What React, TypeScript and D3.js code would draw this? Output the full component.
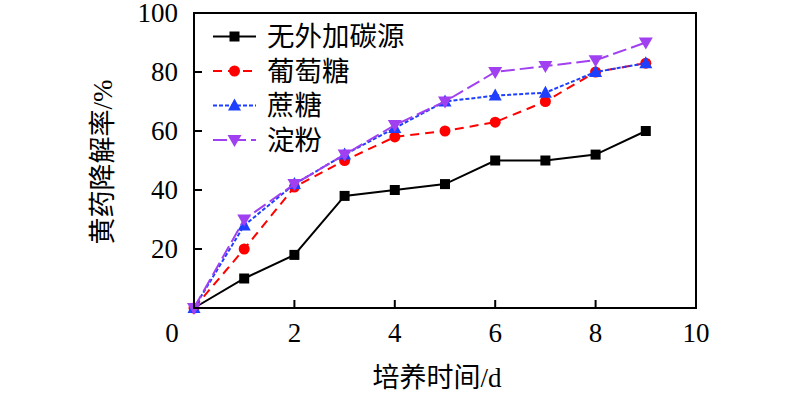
import React from "react";
import * as d3 from "d3";

const days = [0, 1, 2, 3, 4, 5, 6, 7, 8, 9];
const seriesNames = ["无外加碳源", "葡萄糖", "蔗糖", "淀粉"];
const noCarbon = [0, 10, 18, 38, 40, 42, 50, 50, 52, 60];
const glucose = [0, 20, 41, 50, 58, 60, 63, 70, 80, 83];
const sucrose = [0, 28, 42, 52, 61, 70, 72, 73, 80, 83];
const starch = [0, 30, 42, 52, 62, 70, 80, 82, 84, 90];
const xTicks = [2, 4, 6, 8, 10];
const yTicks = [20, 40, 60, 80, 100];

const W = 800, H = 396;
const L = 194, R = 696, T = 13, B = 308;
const FONT = "'Liberation Serif', 'Times New Roman', 'Noto Sans CJK SC', serif";

const styles = [
  { color: "#000000", dash: "none", marker: "square" },
  { color: "#ff0000", dash: "9,6", marker: "circle" },
  { color: "#1f3fff", dash: "4,2", marker: "up" },
  { color: "#a040f0", dash: "14,5", marker: "down" },
];

function Marker({ type, x, y, color }: { type: string; x: number; y: number; color: string }) {
  if (type === "square") return <rect x={x - 5} y={y - 5} width={10} height={10} fill={color} />;
  if (type === "circle") return <circle cx={x} cy={y} r={5.5} fill={color} />;
  if (type === "up") return <path d={`M${x},${y - 7}L${x + 6.5},${y + 5}L${x - 6.5},${y + 5}Z`} fill={color} />;
  return <path d={`M${x},${y + 7}L${x + 7},${y - 5}L${x - 7},${y - 5}Z`} fill={color} />;
}

export default function App() {
  const x = d3.scaleLinear().domain([0, 10]).range([L, R]);
  const y = d3.scaleLinear().domain([0, 100]).range([B, T]);
  const data = [noCarbon, glucose, sucrose, starch];
  const line = d3
    .line<number>()
    .x((_, i) => x(days[i]))
    .y((v) => y(v));
  const legendY = [36.5, 71, 105.5, 140];

  return (
    <svg width={W} height={H} style={{ position: "absolute", left: 0, top: 0, background: "#fff" }} fontFamily={FONT}>
      <rect x={0} y={0} width={W} height={H} fill="#fff" />
      {data.map((vals, si) => (
        <g key={si}>
          <path d={line(vals) || ""} fill="none" stroke={styles[si].color} strokeWidth={2} strokeDasharray={styles[si].dash} />
          {vals.map((v, i) => (
            <Marker key={i} type={styles[si].marker} x={x(days[i])} y={y(v)} color={styles[si].color} />
          ))}
        </g>
      ))}
      <rect x={L} y={T} width={R - L} height={B - T} fill="none" stroke="#000" strokeWidth={2} />
      {xTicks.filter((t) => t < 10).map((t) => (
        <line key={t} x1={x(t)} x2={x(t)} y1={B} y2={B - 8} stroke="#000" strokeWidth={2} />
      ))}
      {yTicks.filter((t) => t < 100).map((t) => (
        <line key={t} x1={L} x2={L + 8} y1={y(t)} y2={y(t)} stroke="#000" strokeWidth={2} />
      ))}
      {xTicks.map((t) => (
        <text key={t} x={x(t)} y={342} textAnchor="middle" fontSize={27}>{t}</text>
      ))}
      {yTicks.map((t) => (
        <text key={t} x={178} y={y(t) + 9} textAnchor="end" fontSize={27}>{t}</text>
      ))}
      <text x={172} y={342} textAnchor="middle" fontSize={27}>0</text>
      <text x={437} y={387} textAnchor="middle" fontSize={27}>培养时间/d</text>
      <text transform={`translate(112,162) rotate(-90)`} textAnchor="middle" fontSize={27}>黄药降解率/%</text>
      {seriesNames.map((n, i) => (
        <g key={n}>
          <line x1={213} x2={256} y1={legendY[i]} y2={legendY[i]} stroke={styles[i].color} strokeWidth={2} strokeDasharray={styles[i].dash} />
          <Marker type={styles[i].marker} x={234.5} y={legendY[i]} color={styles[i].color} />
          <text x={267} y={legendY[i] + 9.5} fontSize={27.5}>{n}</text>
        </g>
      ))}
    </svg>
  );
}
